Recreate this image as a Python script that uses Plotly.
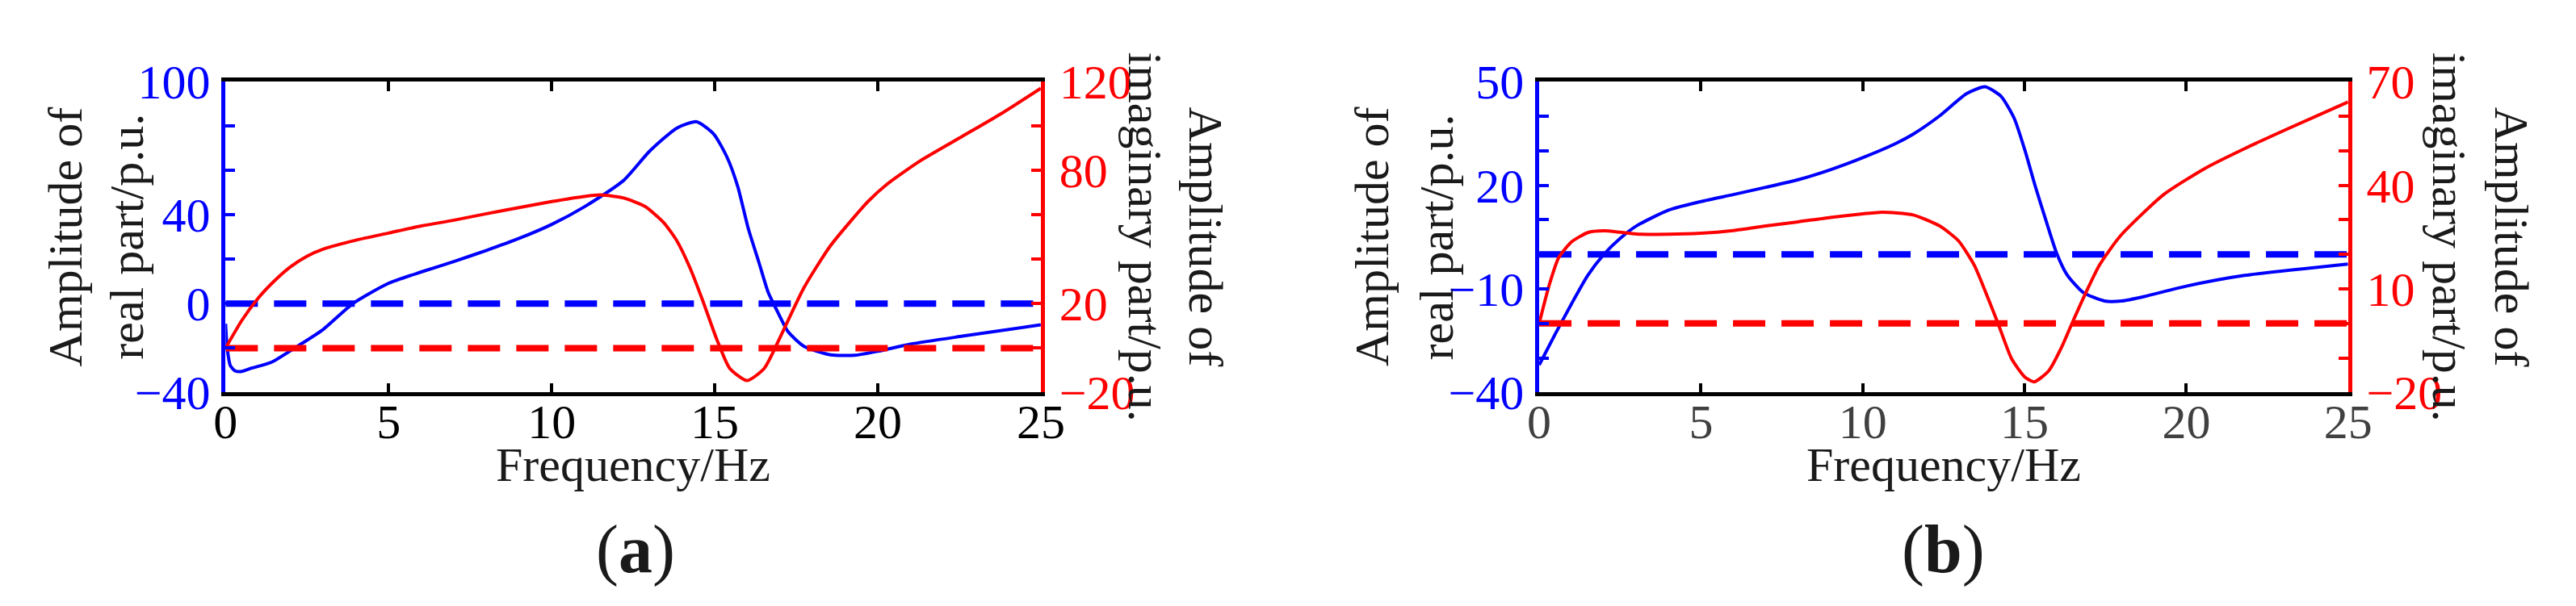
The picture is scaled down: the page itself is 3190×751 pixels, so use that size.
import plotly.graph_objects as go

# panel (a) - real part (left axis) and imaginary part (right axis)
freq_real_a = [0, 0.05, 0.15, 0.3, 0.5, 0.8, 1.4, 2.2, 3.0, 3.9, 5, 6, 7, 8, 9, 10, 11, 12.2,
               13.0, 13.84, 14.45, 14.97, 15.38, 15.71, 16.03, 16.36, 16.64, 16.93, 17.25,
               17.74, 18.55, 19.3, 20, 21, 22.6, 25]
real_a = [-9, -20, -28, -30.3, -30.5, -29, -26.4, -19.2, -11.5, 0, 9.2, 14.3, 19, 24, 29.4,
          35.7, 43.6, 55.4, 68.6, 79.1, 81.9, 76.4, 65.9, 52.6, 33.8, 18.4, 5.1, -3.7, -12.6,
          -19.2, -23.0, -23.2, -21.4, -18.2, -14.6, -9.5]

freq_imag_a = [0, 0.5, 1, 1.5, 2, 2.5, 3, 4, 5, 6, 7, 8, 9, 10, 11, 11.5, 12.21, 12.86, 13.43,
               13.84, 14.24, 14.65, 15.06, 15.46, 15.99, 16.52, 17.09, 17.74, 18.55, 19.7,
               20.3, 21.3, 22.6, 23.8, 25]
imag_a = [0, 12.5, 22.5, 30.3, 36.7, 41.4, 44.6, 48.6, 51.8, 55, 57.6, 60.5, 63.3, 66, 68.3,
          69, 67.6, 63.8, 56.6, 48.3, 36.2, 20.7, 4.1, -9.1, -14.6, -9.1, 7.5, 27.3, 46.1,
          66, 74, 84.3, 95.4, 105.7, 117]

# panel (b)
freq_real_b = [0, 0.5, 1, 1.5, 2, 2.5, 3, 4, 5, 6, 7, 8, 9, 10, 11, 11.56, 12.38, 13.21,
               13.78, 14.27, 14.68, 15.01, 15.34, 15.67, 15.99, 16.32, 16.81, 17.47, 18.0,
               18.7, 20, 21.8, 25]
real_b = [-32, -23, -14.3, -6.1, 0, 4.6, 8.2, 12.8, 15.3, 17.3, 19.4, 21.6, 24.5, 28, 32.0,
          34.8, 40.1, 46.5, 48.5, 45.8, 39.4, 30.2, 19.5, 9.6, 0.4, -6.0, -11.0, -13.5,
          -13.5, -12.2, -9.2, -6.1, -2.8]

freq_imag_b = [0, 0.3, 0.6, 1, 1.5, 2, 2.5, 3, 4, 5, 6, 7, 8, 9, 10, 10.6, 11.56, 12.38,
               12.96, 13.45, 13.86, 14.19, 14.6, 15.01, 15.3, 15.75, 16.16, 16.49, 16.9,
               17.31, 17.96, 19.3, 20.6, 21.8, 23.1, 25]
imag_b = [0, 10.8, 19, 23.6, 26.3, 26.8, 26.4, 25.9, 25.8, 26.1, 26.9, 28.2, 29.4, 30.7, 31.7,
          32.2, 31.4, 28.2, 23.9, 16.8, 7.6, -0.2, -10.2, -15.5, -16.9, -13.7, -6.6, 0.5,
          9.0, 16.8, 25.3, 37.3, 45, 50.6, 56.2, 64.1]

# zero reference lines
zero_x = [0, 25]
zero_y = [0, 0]

# ticks
x_ticks = [0, 5, 10, 15, 20, 25]
y_left_a = [-40, -20, 0, 20, 40, 60, 80, 100]
y_left_a_text = ["\u221240", "", "0", "", "40", "", "", "100"]
y_right_a = [-20, 0, 20, 40, 60, 80, 100, 120]
y_right_a_text = ["\u221220", "", "20", "", "", "80", "", "120"]
y_left_b = [-40, -30, -20, -10, 0, 10, 20, 30, 40, 50]
y_left_b_text = ["\u221240", "", "", "\u221210", "", "", "20", "", "", "50"]
y_right_b = [-20, -10, 0, 10, 20, 30, 40, 50, 60, 70]
y_right_b_text = ["\u221220", "", "", "10", "", "", "40", "", "", "70"]

W, H = 3190, 751
FONT = "Liberation Serif"
BLUE = "#0000ff"
RED = "#ff0000"


def px(x):
    return x / W


def py(y):
    return 1 - y / H


fig = go.Figure()

solid = dict(width=4)
dashed = dict(width=8, dash="40px,20px")

fig.add_trace(go.Scatter(x=zero_x, y=zero_y, mode="lines", line=dict(color=BLUE, **dashed),
                         xaxis="x", yaxis="y"))
fig.add_trace(go.Scatter(x=freq_real_a, y=real_a, mode="lines",
                         line=dict(color=BLUE, shape="spline", smoothing=0.6, **solid),
                         xaxis="x", yaxis="y"))
fig.add_trace(go.Scatter(x=zero_x, y=zero_y, mode="lines", line=dict(color=RED, **dashed),
                         xaxis="x", yaxis="y2"))
fig.add_trace(go.Scatter(x=freq_imag_a, y=imag_a, mode="lines",
                         line=dict(color=RED, shape="spline", smoothing=0.6, **solid),
                         xaxis="x", yaxis="y2"))

fig.add_trace(go.Scatter(x=zero_x, y=zero_y, mode="lines", line=dict(color=BLUE, **dashed),
                         xaxis="x2", yaxis="y3"))
fig.add_trace(go.Scatter(x=freq_real_b, y=real_b, mode="lines",
                         line=dict(color=BLUE, shape="spline", smoothing=0.6, **solid),
                         xaxis="x2", yaxis="y3"))
fig.add_trace(go.Scatter(x=zero_x, y=zero_y, mode="lines", line=dict(color=RED, **dashed),
                         xaxis="x2", yaxis="y4"))
fig.add_trace(go.Scatter(x=freq_imag_b, y=imag_b, mode="lines",
                         line=dict(color=RED, shape="spline", smoothing=0.6, **solid),
                         xaxis="x2", yaxis="y4"))

ydom = [py(489.5), py(67)]


def xax(dom, tickcolor):
    return dict(domain=dom, range=[0, 25], tickvals=x_ticks, ticks="inside", ticklen=12,
                tickwidth=4, tickcolor="black", showline=True, linecolor="black",
                linewidth=4.5, mirror="ticks", showgrid=False, zeroline=False,
                ticklabelstandoff=-20,
                tickfont=dict(family=FONT, size=60, color=tickcolor))


def yax(rng, vals, text, color, standoff, **kw):
    d = dict(domain=ydom, range=rng, tickvals=vals, ticktext=text, ticks="inside",
             ticklen=12, tickwidth=4, tickcolor=color, showline=True, linecolor=color,
             linewidth=4.5, showgrid=False, zeroline=False, ticklabelstandoff=standoff,
             tickfont=dict(family=FONT, size=60, color=color))
    d.update(kw)
    return d


fig.update_layout(
    width=W, height=H, margin=dict(l=0, r=0, t=0, b=0),
    paper_bgcolor="white", plot_bgcolor="white", showlegend=False,
    xaxis=xax([px(260), px(1284)], "black") | dict(anchor="y"),
    xaxis2=xax([px(1910), px(2926)], "#404040") | dict(anchor="y3"),
    yaxis=yax([-40, 100], y_left_a, y_left_a_text, BLUE, 2, anchor="x"),
    yaxis2=yax([-20, 120], y_right_a, y_right_a_text, RED, 6, anchor="x",
               overlaying="y", side="right"),
    yaxis3=yax([-40, 50], y_left_b, y_left_b_text, BLUE, 2, anchor="x2"),
    yaxis4=yax([-20, 70], y_right_b, y_right_b_text, RED, 6, anchor="x2",
               overlaying="y3", side="right"),
)

# axis titles and panel labels as annotations
labels = [
    ("Amplitude of", 58.7, 278, -90, 60),
    ("real part/p.u.", 135, 278, -90, 60),
    ("imaginary part/p.u.", 1415, 278, 90, 60),
    ("Amplitude of", 1491, 278, 90, 60),
    ("Frequency/Hz", 772, 588, 0, 60),
    ("(<b>a</b>)", 775, 703, 0, 84),
    ("Amplitude of", 1699.5, 278, -90, 60),
    ("real part/p.u.", 1781, 278, -90, 60),
    ("imaginary part/p.u.", 3053, 278, 90, 60),
    ("Amplitude of", 3132, 278, 90, 60),
    ("Frequency/Hz", 2418, 588, 0, 60),
    ("(<b>b</b>)", 2418, 703, 0, 84),
]
for text, x, y, ang, size in labels:
    fig.add_annotation(text=text, x=px(x), y=py(y), xref="paper", yref="paper",
                       xanchor="center", yanchor="middle", textangle=ang, showarrow=False,
                       font=dict(family=FONT, size=size, color="#1a1a1a"))

fig.write_html("out.html")
